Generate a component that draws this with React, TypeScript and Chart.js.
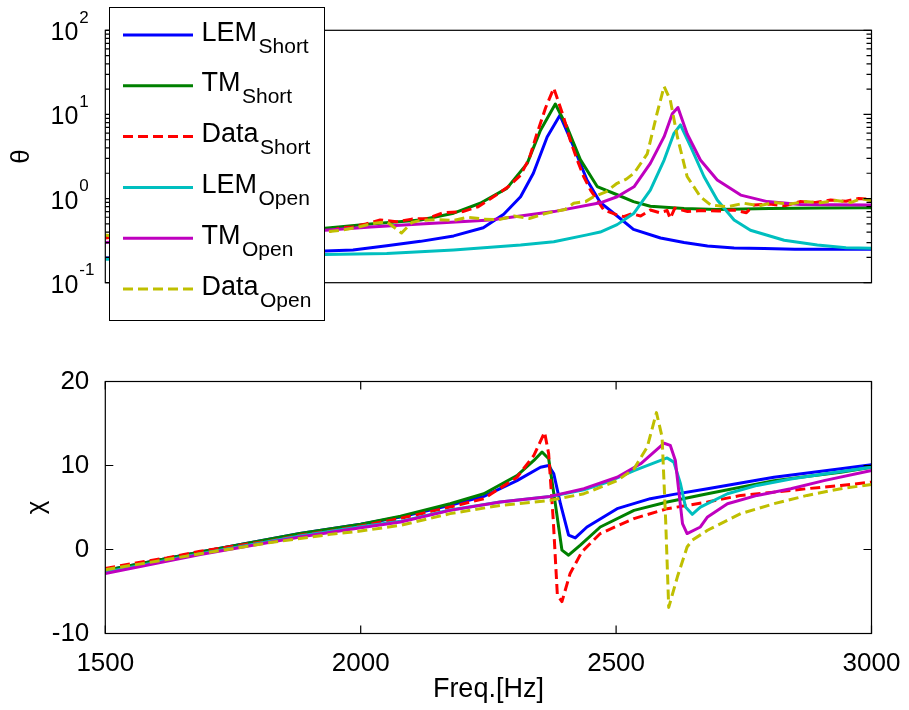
import React, { useEffect, useRef } from "react";
import { Chart, registerables } from "chart.js";

Chart.register(...registerables);

const FONT = "'Liberation Sans', Arial, Helvetica, sans-serif";

// ---- axes / labels ----
const X_MIN = 1500;
const X_MAX = 3000;
const X_STEP = 500;
const X_TICKS = [1500, 2000, 2500, 3000];
const CHI_MIN = -10;
const CHI_MAX = 20;
const CHI_TICKS = [-10, 0, 10, 20];
const THETA_MIN = 0.1;
const THETA_MAX = 100;
const THETA_DECADES = [-1, 0, 1, 2];
const X_TITLE = "Freq.[Hz]";
const THETA_TITLE = "θ";
const CHI_TITLE = "χ";

// ---- series ----
const LEGEND_MAIN = ["LEM", "TM", "Data", "LEM", "TM", "Data"];
const LEGEND_SUB = ["Short", "Short", "Short", "Open", "Open", "Open"];
const COLORS = ["#0000ff", "#008000", "#ff0000", "#00bfbf", "#bf00bf", "#bfbf00"];
const DASHED = [false, false, true, false, false, true];

// ---- theta (top, log) ----
const LEM_SHORT_THETA_F = [1500, 1600, 1700, 1800, 1930, 1985, 2051, 2117, 2182, 2240, 2280, 2313, 2338, 2365, 2390, 2417, 2443, 2469, 2502, 2534, 2587, 2633, 2679, 2731, 2790, 2850, 2920, 3000];
const LEM_SHORT_THETA = [0.197, 0.205, 0.215, 0.225, 0.238, 0.245, 0.275, 0.31, 0.36, 0.45, 0.65, 1.05, 2.0, 5.4, 9.8, 4.1, 1.66, 0.9, 0.62, 0.43, 0.34, 0.3, 0.273, 0.258, 0.255, 0.25, 0.25, 0.25];

const TM_SHORT_THETA_F = [1500, 1600, 1700, 1800, 1930, 2019, 2117, 2182, 2234, 2286, 2326, 2352, 2381, 2404, 2430, 2463, 2502, 2534, 2567, 2633, 2698, 2800, 2900, 3000];
const TM_SHORT_THETA = [0.36, 0.38, 0.4, 0.42, 0.444, 0.5, 0.556, 0.67, 0.88, 1.32, 2.62, 6.5, 13.3, 7.1, 2.9, 1.39, 1.11, 0.92, 0.81, 0.76, 0.74, 0.76, 0.77, 0.78];

const DATA_SHORT_THETA_F = [1500, 1560, 1620, 1690, 1750, 1820, 1880, 1930, 1960, 1985, 2010, 2038, 2070, 2100, 2130, 2162, 2200, 2230, 2260, 2290, 2313, 2330, 2345, 2362, 2378, 2397, 2410, 2424, 2437, 2450, 2476, 2502, 2515, 2530, 2548, 2567, 2585, 2600, 2606, 2615, 2640, 2665, 2700, 2730, 2755, 2770, 2800, 2830, 2860, 2890, 2920, 2950, 2975, 3000];
const DATA_SHORT_THETA = [0.34, 0.37, 0.36, 0.39, 0.4, 0.42, 0.41, 0.39, 0.45, 0.46, 0.5, 0.556, 0.53, 0.57, 0.58, 0.68, 0.7, 0.8, 1.05, 1.4, 1.9, 3.0, 5.9, 12.0, 20.5, 9.4, 5.0, 2.87, 1.8, 1.26, 0.73, 0.64, 0.61, 0.66, 0.62, 0.73, 0.68, 0.72, 0.58, 0.77, 0.7, 0.72, 0.71, 0.73, 0.68, 0.84, 0.86, 0.82, 0.92, 0.9, 0.96, 0.93, 1.0, 0.98];

const LEM_OPEN_THETA_F = [1500, 1600, 1700, 1800, 1930, 2051, 2182, 2313, 2378, 2443, 2469, 2502, 2535, 2567, 2594, 2613, 2626, 2646, 2672, 2698, 2731, 2763, 2829, 2894, 2950, 3000];
const LEM_OPEN_THETA = [0.19, 0.195, 0.2, 0.21, 0.217, 0.223, 0.245, 0.28, 0.307, 0.37, 0.4, 0.49, 0.67, 1.26, 2.87, 5.9, 7.5, 4.14, 1.83, 0.96, 0.556, 0.42, 0.32, 0.28, 0.26, 0.256];

const TM_OPEN_THETA_F = [1500, 1600, 1700, 1800, 1930, 2020, 2117, 2254, 2378, 2469, 2502, 2535, 2567, 2594, 2610, 2621, 2639, 2665, 2698, 2744, 2796, 2861, 3000];
const TM_OPEN_THETA = [0.3, 0.33, 0.36, 0.39, 0.42, 0.46, 0.5, 0.556, 0.7, 0.89, 1.05, 1.38, 2.62, 5.44, 10.2, 12.1, 5.9, 2.87, 1.66, 1.1, 0.92, 0.85, 0.84];

const DATA_OPEN_THETA_F = [1500, 1550, 1610, 1680, 1740, 1800, 1870, 1930, 1960, 1990, 2020, 2051, 2080, 2100, 2117, 2150, 2182, 2210, 2240, 2270, 2300, 2330, 2360, 2378, 2400, 2417, 2440, 2456, 2480, 2502, 2520, 2535, 2561, 2580, 2594, 2606, 2620, 2639, 2665, 2685, 2718, 2750, 2780, 2810, 2840, 2870, 2900, 2930, 2960, 2980, 3000];
const DATA_OPEN_THETA = [0.37, 0.33, 0.38, 0.36, 0.4, 0.38, 0.42, 0.4, 0.42, 0.45, 0.5, 0.53, 0.39, 0.52, 0.55, 0.56, 0.55, 0.6, 0.57, 0.56, 0.62, 0.58, 0.66, 0.7, 0.74, 0.88, 0.92, 1.05, 1.2, 1.52, 1.7, 2.0, 3.4, 10.2, 21.5, 14.9, 5.4, 1.83, 1.05, 0.84, 0.8, 0.88, 0.82, 0.9, 0.86, 0.92, 0.89, 0.95, 0.9, 1.0, 0.94];

// ---- chi (bottom, linear) ----
const LEM_SHORT_CHI_F = [1500, 1686, 1881, 2000, 2078, 2175, 2241, 2306, 2352, 2368, 2378, 2391, 2407, 2420, 2443, 2502, 2567, 2613, 2679, 2809, 2940, 3000];
const LEM_SHORT_CHI = [-2.5, -0.3, 1.9, 3.0, 3.87, 5.25, 6.32, 8.2, 9.8, 10.0, 9.0, 5.45, 1.7, 1.38, 2.68, 4.86, 6.05, 6.56, 7.24, 8.6, 9.6, 10.1];

const TM_SHORT_CHI_F = [1500, 1686, 1881, 2000, 2078, 2175, 2241, 2306, 2339, 2355, 2368, 2381, 2394, 2407, 2430, 2469, 2535, 2600, 2679, 2809, 2940, 3000];
const TM_SHORT_CHI = [-2.5, -0.3, 1.9, 3.0, 3.95, 5.45, 6.64, 8.8, 10.6, 11.6, 10.8, 5.45, -0.08, -0.68, 0.51, 2.68, 4.66, 5.65, 6.64, 8.2, 9.2, 9.8];

const DATA_SHORT_CHI_F = [1500, 1560, 1620, 1686, 1750, 1820, 1881, 1940, 2000, 2078, 2175, 2241, 2306, 2339, 2360, 2368, 2377, 2385, 2394, 2410, 2433, 2469, 2535, 2600, 2679, 2744, 2809, 2874, 2940, 3000];
const DATA_SHORT_CHI = [-2.25, -1.6, -1.0, -0.2, 0.4, 1.0, 1.7, 2.2, 2.8, 3.7, 5.05, 6.05, 8.6, 11.2, 13.95, 11.4, 3.48, -5.42, -6.2, -2.85, -0.28, 1.9, 3.68, 4.86, 5.65, 6.44, 6.83, 7.24, 7.63, 8.02];

const LEM_OPEN_CHI_F = [1500, 1686, 1881, 2000, 2078, 2175, 2273, 2371, 2437, 2482, 2535, 2600, 2613, 2626, 2636, 2649, 2665, 2718, 2776, 2842, 2907, 3000];
const LEM_OPEN_CHI = [-2.7, -0.5, 1.6, 2.7, 3.35, 4.7, 5.65, 6.3, 7.1, 8.0, 9.4, 10.9, 10.4, 7.83, 5.05, 4.19, 5.05, 6.64, 7.63, 8.4, 9.0, 9.8];

const TM_OPEN_CHI_F = [1500, 1686, 1881, 2000, 2078, 2175, 2273, 2371, 2437, 2502, 2548, 2594, 2606, 2616, 2630, 2639, 2665, 2679, 2718, 2776, 2842, 2907, 3000];
const TM_OPEN_CHI = [-2.85, -0.6, 1.5, 2.6, 3.27, 4.66, 5.65, 6.32, 7.24, 8.6, 10.2, 12.65, 12.4, 10.6, 3.08, 1.9, 2.68, 3.87, 5.45, 6.44, 7.24, 8.2, 9.4];

const DATA_OPEN_CHI_F = [1500, 1560, 1620, 1686, 1750, 1820, 1881, 1940, 2000, 2078, 2175, 2273, 2371, 2437, 2502, 2535, 2561, 2579, 2590, 2597, 2603, 2620, 2639, 2649, 2679, 2744, 2809, 2874, 2940, 3000];
const DATA_OPEN_CHI = [-2.4, -1.8, -1.2, -0.5, 0.1, 0.8, 1.3, 1.8, 2.2, 2.88, 4.27, 5.25, 5.85, 6.64, 8.2, 9.6, 12.2, 16.3, 13.4, 3.5, -6.9, -3.25, 0.3, 1.1, 2.29, 4.27, 5.45, 6.44, 7.24, 7.75];

const THETA_F = [LEM_SHORT_THETA_F, TM_SHORT_THETA_F, DATA_SHORT_THETA_F, LEM_OPEN_THETA_F, TM_OPEN_THETA_F, DATA_OPEN_THETA_F];
const THETA_V = [LEM_SHORT_THETA, TM_SHORT_THETA, DATA_SHORT_THETA, LEM_OPEN_THETA, TM_OPEN_THETA, DATA_OPEN_THETA];
const CHI_F = [LEM_SHORT_CHI_F, TM_SHORT_CHI_F, DATA_SHORT_CHI_F, LEM_OPEN_CHI_F, TM_OPEN_CHI_F, DATA_OPEN_CHI_F];
const CHI_V = [LEM_SHORT_CHI, TM_SHORT_CHI, DATA_SHORT_CHI, LEM_OPEN_CHI, TM_OPEN_CHI, DATA_OPEN_CHI];

function makeDatasets(fs: number[][], vs: number[][]) {
  return LEGEND_MAIN.map((m, i) => ({
    label: m + "_" + LEGEND_SUB[i],
    data: fs[i].map((x, j) => ({ x, y: vs[i][j] })),
    borderColor: COLORS[i],
    backgroundColor: COLORS[i],
    borderWidth: 3,
    borderDash: DASHED[i] ? [10, 5] : [],
    borderCapStyle: "butt",
    borderJoinStyle: "round",
    pointRadius: 0,
    tension: 0,
    fill: false,
    order: LEGEND_MAIN.length - 1 - i,
  }));
}

const frameTicks = {
  id: "frameTicks",
  afterDatasetsDraw(chart: any, _args: any, o: any) {
    const { ctx, chartArea: a, scales } = chart;
    ctx.save();
    ctx.strokeStyle = "#000";
    ctx.lineWidth = 1.2;
    ctx.setLineDash([]);
    ctx.strokeRect(a.left, a.top, a.right - a.left, a.bottom - a.top);
    ctx.beginPath();
    (o.xTicks || []).forEach((v: number) => {
      const px = scales.x.getPixelForValue(v);
      ctx.moveTo(px, a.bottom);
      ctx.lineTo(px, a.bottom - 8);
      ctx.moveTo(px, a.top);
      ctx.lineTo(px, a.top + 8);
    });
    (o.yTicks || []).forEach((t: any) => {
      const py = scales.y.getPixelForValue(t.v);
      ctx.moveTo(a.left, py);
      ctx.lineTo(a.left + t.len, py);
      ctx.moveTo(a.right, py);
      ctx.lineTo(a.right - t.len, py);
    });
    ctx.stroke();
    if (o.logLabels) {
      ctx.fillStyle = "#000";
      ctx.textBaseline = "alphabetic";
      (o.logLabels as number[]).forEach((e) => {
        const py = scales.y.getPixelForValue(Math.pow(10, e));
        ctx.font = `25px ${FONT}`;
        ctx.textAlign = "right";
        ctx.fillText("10", a.left - 27, py + 10);
        ctx.font = `17px ${FONT}`;
        ctx.textAlign = "left";
        ctx.fillText(String(e), a.left - 26, py - 7.5);
      });
    }
    ctx.restore();
  },
};

const subLegend = {
  id: "subLegend",
  afterDraw(chart: any, _args: any, o: any) {
    if (!o || !o.show) return;
    const ctx = chart.ctx;
    ctx.save();
    ctx.fillStyle = "#fff";
    ctx.fillRect(o.left, o.top, o.width, o.height);
    ctx.strokeStyle = "#000";
    ctx.lineWidth = 1;
    ctx.strokeRect(o.left + 0.5, o.top + 0.5, o.width, o.height);
    LEGEND_MAIN.forEach((m, i) => {
      const y = o.firstRow + i * o.rowGap;
      ctx.beginPath();
      ctx.setLineDash(DASHED[i] ? [10, 5] : []);
      ctx.strokeStyle = COLORS[i];
      ctx.lineWidth = 3;
      ctx.lineCap = "butt";
      ctx.moveTo(o.lineX0, y);
      ctx.lineTo(o.lineX1, y);
      ctx.stroke();
      ctx.setLineDash([]);
      ctx.fillStyle = "#000";
      ctx.textBaseline = "alphabetic";
      ctx.textAlign = "left";
      ctx.font = `27px ${FONT}`;
      ctx.fillText(m, o.textX, y + 5.5);
      const w = ctx.measureText(m).width;
      ctx.font = `21px ${FONT}`;
      ctx.fillText(LEGEND_SUB[i], o.textX + w + 1.5, y + 17.5);
    });
    ctx.restore();
  },
};

const numLabel = (v: any) => String(v);

export default function App() {
  const topRef = useRef<HTMLCanvasElement | null>(null);
  const botRef = useRef<HTMLCanvasElement | null>(null);

  useEffect(() => {
    const minorTicks: any[] = [];
    THETA_DECADES.forEach((e) => {
      minorTicks.push({ v: Math.pow(10, e), len: 8 });
      if (e < 2) for (let k = 2; k <= 9; k++) minorTicks.push({ v: k * Math.pow(10, e), len: 5 });
    });

    const top = new Chart(topRef.current as HTMLCanvasElement, {
      type: "line",
      data: { datasets: makeDatasets(THETA_F, THETA_V) as any },
      plugins: [frameTicks, subLegend],
      options: {
        animation: false,
        responsive: false,
        devicePixelRatio: 1,
        layout: { padding: { left: 0, right: 37.5, top: 30.3, bottom: 57.3 } },
        plugins: {
          legend: { display: false },
          tooltip: { enabled: false },
          frameTicks: { xTicks: [], yTicks: minorTicks, logLabels: THETA_DECADES },
          subLegend: { show: true, left: 109, top: 7, width: 215, height: 313, firstRow: 35, rowGap: 50.8, lineX0: 123, lineX1: 193, textX: 201.5 },
        } as any,
        scales: {
          x: { type: "linear", min: X_MIN, max: X_MAX, display: false },
          y: {
            type: "logarithmic",
            min: THETA_MIN,
            max: THETA_MAX,
            grid: { display: false },
            border: { display: false },
            ticks: { display: false },
            title: { display: true, text: THETA_TITLE, color: "#000", font: { family: FONT, size: 26 }, padding: { top: 6.4, bottom: 0 } },
            afterFit: (s: any) => { s.width = 105.3; },
          } as any,
        },
      },
    });

    const bot = new Chart(botRef.current as HTMLCanvasElement, {
      type: "line",
      data: { datasets: makeDatasets(CHI_F, CHI_V) as any },
      plugins: [frameTicks],
      options: {
        animation: false,
        responsive: false,
        devicePixelRatio: 1,
        layout: { padding: { left: 0, right: 37.5, top: 41.5, bottom: 0 } },
        plugins: {
          legend: { display: false },
          tooltip: { enabled: false },
          frameTicks: { xTicks: X_TICKS, yTicks: CHI_TICKS.map((v) => ({ v, len: 8 })) },
        } as any,
        scales: {
          x: {
            type: "linear",
            min: X_MIN,
            max: X_MAX,
            grid: { display: false },
            border: { display: false },
            ticks: { stepSize: X_STEP, autoSkip: false, maxRotation: 0, color: "#000", padding: 6.9, font: { family: FONT, size: 26, lineHeight: 1.2 }, callback: numLabel },
            title: { display: true, text: X_TITLE, color: "#000", font: { family: FONT, size: 27 }, padding: { top: 0, bottom: 4.3 } },
            afterFit: (s: any) => { s.height = 76.5; },
          } as any,
          y: {
            type: "linear",
            min: CHI_MIN,
            max: CHI_MAX,
            grid: { display: false },
            border: { display: false },
            ticks: { stepSize: 10, color: "#000", padding: 8, font: { family: FONT, size: 26 }, callback: numLabel },
            title: { display: true, text: CHI_TITLE, color: "#000", font: { family: FONT, size: 26 }, padding: { top: 21.4, bottom: 0 } },
            afterFit: (s: any) => { s.width = 105.3; },
          } as any,
        },
      },
    });

    return () => {
      top.destroy();
      bot.destroy();
    };
  }, []);

  return (
    <div style={{ position: "fixed", left: 0, top: 0, width: 909, height: 710, background: "#fff", overflow: "hidden" }}>
      <canvas ref={topRef} width={909} height={340} style={{ position: "absolute", left: 0, top: 0, width: 909, height: 340, display: "block" }} />
      <canvas ref={botRef} width={909} height={370} style={{ position: "absolute", left: 0, top: 340, width: 909, height: 370, display: "block" }} />
    </div>
  );
}
